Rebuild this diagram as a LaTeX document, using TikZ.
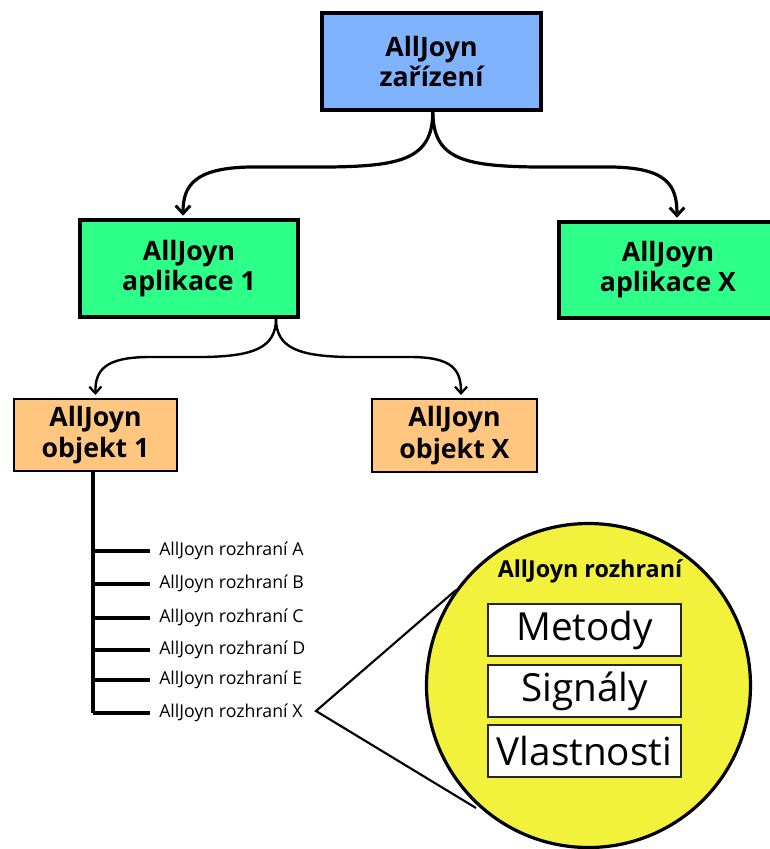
\documentclass[tikz,border=0pt]{standalone}
\usepackage{fontspec}
\setmainfont{Open Sans}
\usetikzlibrary{arrows.meta}
\definecolor{cblue}{RGB}{128,179,255}
\definecolor{cgreen}{RGB}{46,255,136}
\definecolor{corange}{RGB}{255,198,128}
\definecolor{cyellow}{RGB}{242,242,60}
\tikzset{
  box/.style={draw=black, line width=2.4pt, align=center, inner sep=0pt},
  bigtxt/.style={font=\fontsize{20}{22.5}\selectfont\bfseries},
  objtxt/.style={font=\fontsize{20}{23.5}\selectfont\bfseries},
  arr/.style={line width=2.4pt, -{Straight Barb[length=6pt,width=11pt,line width=2.2pt]}},
  arrs/.style={line width=1.8pt, -{Straight Barb[length=5pt,width=9pt,line width=1.7pt]}},
  treeline/.style={line width=3pt},
  iflabel/.style={anchor=west, inner sep=0pt, font=\fontsize{13.3}{15}\selectfont},
  partbox/.style={draw=black!85, line width=1.1pt, fill=white, minimum width=144.75pt, minimum height=39pt, inner sep=0pt, font=\fontsize{29}{32}\selectfont}
}
\begin{document}
\begin{tikzpicture}[x=0.75pt,y=-0.75pt]
\clip (0,0) rectangle (770,849);
\fill[white] (0,0) rectangle (770,849);

% boxes
\node[box, bigtxt, fill=cblue, minimum width=164.25pt, minimum height=72.75pt] (dev) at (431.5,61.5) {AllJoyn\\zařízení};
\node[box, bigtxt, fill=cgreen, minimum width=163.5pt, minimum height=72.75pt] (app1) at (189,268.5) {AllJoyn\\aplikace 1};
\node[box, bigtxt, fill=cgreen, minimum width=163.5pt, minimum height=72pt] (appX) at (668,270) {AllJoyn\\aplikace X};
\node[box, objtxt, fill=corange, minimum width=122.25pt, minimum height=54pt, line width=2pt] (obj1) at (95.5,435) {AllJoyn\\objekt 1};
\node[box, objtxt, fill=corange, minimum width=123.75pt, minimum height=54.75pt, line width=2pt] (objX) at (454.5,435.5) {AllJoyn\\objekt X};

% connectors top
\draw[arr] ([xshift=1pt]dev.south) .. controls +(0,48) and (400,166) .. (330,167)
  -- (250,167) .. controls (195,168) and (183,185) .. ([xshift=-4.5pt,yshift=2pt]app1.north);
\draw[arr] ([xshift=1pt]dev.south) .. controls +(0,48) and (465,166) .. (535,167)
  -- (612,167) .. controls (667,168) and (677,185) .. ([xshift=6.75pt,yshift=2pt]appX.north);

% connectors second level
\draw[arrs] ([xshift=65.25pt]app1.south) .. controls +(0,30) and (252,356) .. (205,357)
  -- (150,357) .. controls (105,357) and (95,370) .. ([yshift=2pt]obj1.north);
\draw[arrs] ([xshift=65.25pt]app1.south) .. controls +(0,30) and (300,356) .. (347,357)
  -- (410,357) .. controls (453,357) and (461,370) .. ([xshift=4.9pt,yshift=2pt]objX.north);

% tree
\coordinate (t0) at (93,471);
\coordinate (t6) at (93,713);
\draw[treeline] (obj1.south -| t0) -- (t6);
\foreach \y/\L in {551/A,584/B,618/C,650/D,680/E,713/X}{
  \draw[treeline] (93,\y) -- (150,\y);
  \node[iflabel] (l\L) at (159,\y) {AllJoyn rozhraní \L};
}

% zoom lines and circle
\coordinate (apex) at (316,711);
\coordinate (tu) at (456,590);
\coordinate (tl) at (476,808);
\draw[line width=1.6pt] (tu) -- (apex) -- (tl);
\node[circle, draw=black, line width=2.4pt, fill=cyellow, minimum size=243pt, inner sep=0pt] (circ) at (588.5,685.5) {};
\node[font=\fontsize{17.5}{20}\selectfont\bfseries] (head) at (590,571) {AllJoyn rozhraní};
\node[partbox] (met) at (584.5,630) {Metody};
\node[partbox] (sig) at (584.5,691) {Signály};
\node[partbox] (vla) at (584.5,751) {Vlastnosti};
\end{tikzpicture}
\end{document}
